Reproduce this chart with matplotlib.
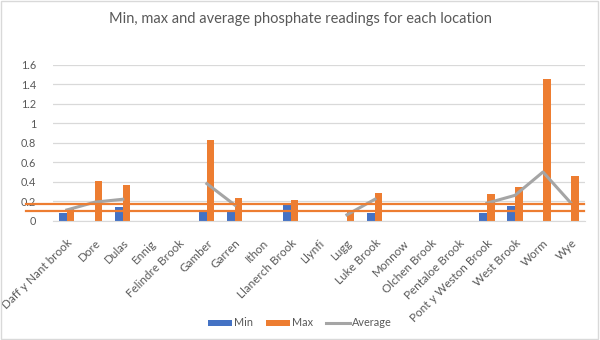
import numpy as np
import matplotlib
matplotlib.use("Agg")
import matplotlib.pyplot as plt
from matplotlib.patches import Rectangle

plt.rcParams['font.family'] = ['Lato', 'DejaVu Sans']

nan = np.nan
locations = ['Daff y Nant brook', 'Dore', 'Dulas', 'Ennig', 'Felindre Brook',
             'Gamber', 'Garren', 'Ithon', 'Llanerch Brook', 'Llynfi', 'Lugg',
             'Luke Brook', 'Monnow', 'Olchen Brook', 'Pentaloe Brook',
             'Pont y Weston Brook', 'West Brook', 'Worm', 'Wye']
min_vals = [0.08, nan, 0.14, nan, nan, 0.10, 0.10, nan, 0.16, nan, nan,
            0.08, nan, nan, nan, 0.08, 0.15, nan, nan]
max_vals = [0.12, 0.41, 0.37, nan, nan, 0.83, 0.23, nan, 0.21, nan, 0.10,
            0.28, nan, nan, nan, 0.27, 0.35, 1.46, 0.46]
avg_vals = [0.11, 0.19, 0.22, nan, nan, 0.38, 0.16, nan, nan, nan, 0.06,
            0.22, nan, nan, nan, 0.18, 0.26, 0.50, 0.18]
ref_lines = [0.17, 0.10]

BLUE = '#4472C4'
ORANGE = '#ED7D31'
GREY = '#A5A5A5'
TXT = '#595959'

fig = plt.figure(figsize=(6, 3.4), dpi=100)
ax = fig.add_axes((0.088, 0.351, 0.887, 0.458))

x = np.arange(len(locations))
w = 0.27
b1 = ax.bar(x - w / 2, min_vals, w, color=BLUE, label='Min', zorder=2)
b2 = ax.bar(x + w / 2, max_vals, w, color=ORANGE, label='Max', zorder=2)
l1, = ax.plot(x, avg_vals, color=GREY, lw=2.2, label='Average', zorder=3)

# the two orange reference lines run past the left edge of the plot
for v in ref_lines:
    ax.axhline(v, xmin=-0.051, xmax=0.998, color=ORANGE, lw=1.6,
               clip_on=False, zorder=4)

ax.set_xlim(-0.5, len(locations) - 0.5)
ax.set_ylim(0, 1.6)
ax.set_yticks(np.arange(0, 1.61, 0.2))
ax.set_yticklabels([f'{t:g}' for t in np.arange(0, 1.61, 0.2)])
ax.set_xticks(x)
ax.set_xticklabels(locations, rotation=45, ha='right', rotation_mode='anchor')
ax.tick_params(axis='both', length=0, colors=TXT)
ax.tick_params(axis='y', pad=12, labelsize=7.8)
ax.tick_params(axis='x', pad=12, labelsize=8.4)
ax.grid(axis='y', color='#D9D9D9', lw=0.9, zorder=0)
for s in ['left', 'top', 'right']:
    ax.spines[s].set_visible(False)
ax.spines['bottom'].set_color('#D9D9D9')

fig.text(0.5, 0.945, 'Min, max and average phosphate readings for each location',
         ha='center', va='center', color=TXT, fontsize=10.5)

leg = fig.legend([b1, b2, l1], ['Min', 'Max', 'Average'],
                 loc='center', bbox_to_anchor=(0.5, 0.05), ncol=3,
                 frameon=False, fontsize=7.8, handlelength=2.2, handleheight=0.5,
                 columnspacing=1.2, handletextpad=0.2)
for t in leg.get_texts():
    t.set_color(TXT)

fig.patches.append(Rectangle((0.002, 0.003), 0.995, 0.993,
                             transform=fig.transFigure, fill=False,
                             edgecolor='#D9D9D9', lw=1))

fig.savefig('out.png', dpi=100)
